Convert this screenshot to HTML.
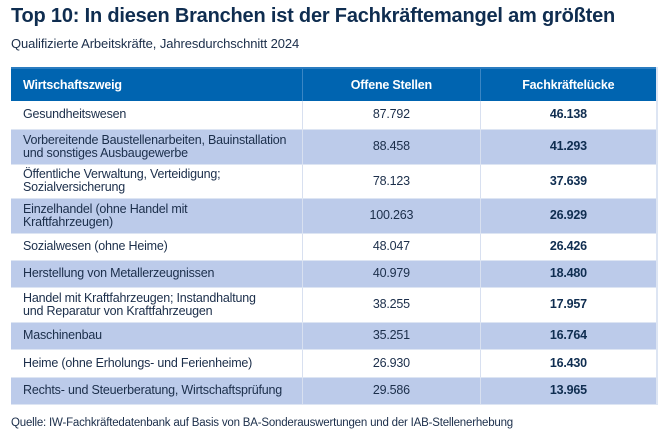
<!DOCTYPE html>
<html><head><meta charset="utf-8"><style>
*{margin:0;padding:0;box-sizing:border-box}
body{width:668px;height:444px;background:#fff;font-family:"Liberation Sans",sans-serif;color:#1b2e4a;position:relative;overflow:hidden}
h1{position:absolute;left:11px;top:5px;font-size:20px;font-weight:bold;color:#0f2d50;letter-spacing:-0.2px;white-space:nowrap}
.sub{position:absolute;left:11px;top:36px;font-size:13px;color:#1b2e4a;letter-spacing:-0.1px}
table{position:absolute;left:11px;top:67px;width:647px;border-collapse:collapse;font-size:12.5px;letter-spacing:-0.2px}
th{background:#0064b0;color:#fff;height:33px;font-weight:bold;font-size:12.5px;border-right:1px solid #3a86c4;border-top:2px solid #2a7cc0}
th:first-child{text-align:left;padding-left:12px}
td{border-right:1px solid #d8e0f0;border-bottom:1px solid #dde5f3;line-height:13px}
td:first-child{padding-left:12px;text-align:left}
td:nth-child(2),td:nth-child(3){text-align:center}
td:nth-child(3){font-weight:bold;color:#0f2d50}
tr.b td{background:#bccbea}
tr td:last-child,th:last-child{border-right:2px solid #dde5f3}
.src{position:absolute;left:11px;top:417px;font-size:11.5px;letter-spacing:-0.2px}
</style></head><body>
<h1>Top 10: In diesen Branchen ist der Fachkräftemangel am größten</h1>
<div class="sub">Qualifizierte Arbeitskräfte, Jahresdurchschnitt 2024</div>
<table>
<colgroup><col style="width:292px"><col style="width:178px"><col style="width:177px"></colgroup>
<tr><th>Wirtschaftszweig</th><th>Offene Stellen</th><th>Fachkräftelücke</th></tr>
<tr style="height:28px"><td>Gesundheitswesen</td><td>87.792</td><td>46.138</td></tr>
<tr class="b" style="height:35px"><td>Vorbereitende Baustellenarbeiten, Bauinstallation<br>und sonstiges Ausbaugewerbe</td><td>88.458</td><td>41.293</td></tr>
<tr style="height:34px"><td>Öffentliche Verwaltung, Verteidigung;<br>Sozialversicherung</td><td>78.123</td><td>37.639</td></tr>
<tr class="b" style="height:35px"><td>Einzelhandel (ohne Handel mit<br>Kraftfahrzeugen)</td><td>100.263</td><td>26.929</td></tr>
<tr style="height:27px"><td>Sozialwesen (ohne Heime)</td><td>48.047</td><td>26.426</td></tr>
<tr class="b" style="height:27px"><td>Herstellung von Metallerzeugnissen</td><td>40.979</td><td>18.480</td></tr>
<tr style="height:35px"><td>Handel mit Kraftfahrzeugen; Instandhaltung<br>und Reparatur von Kraftfahrzeugen</td><td>38.255</td><td>17.957</td></tr>
<tr class="b" style="height:27px"><td>Maschinenbau</td><td>35.251</td><td>16.764</td></tr>
<tr style="height:28px"><td>Heime (ohne Erholungs- und Ferienheime)</td><td>26.930</td><td>16.430</td></tr>
<tr class="b" style="height:27px"><td>Rechts- und Steuerberatung, Wirtschaftsprüfung</td><td>29.586</td><td>13.965</td></tr>
</table>
<div class="src">Quelle: IW-Fachkräftedatenbank auf Basis von BA-Sonderauswertungen und der IAB-Stellenerhebung</div>
</body></html>
